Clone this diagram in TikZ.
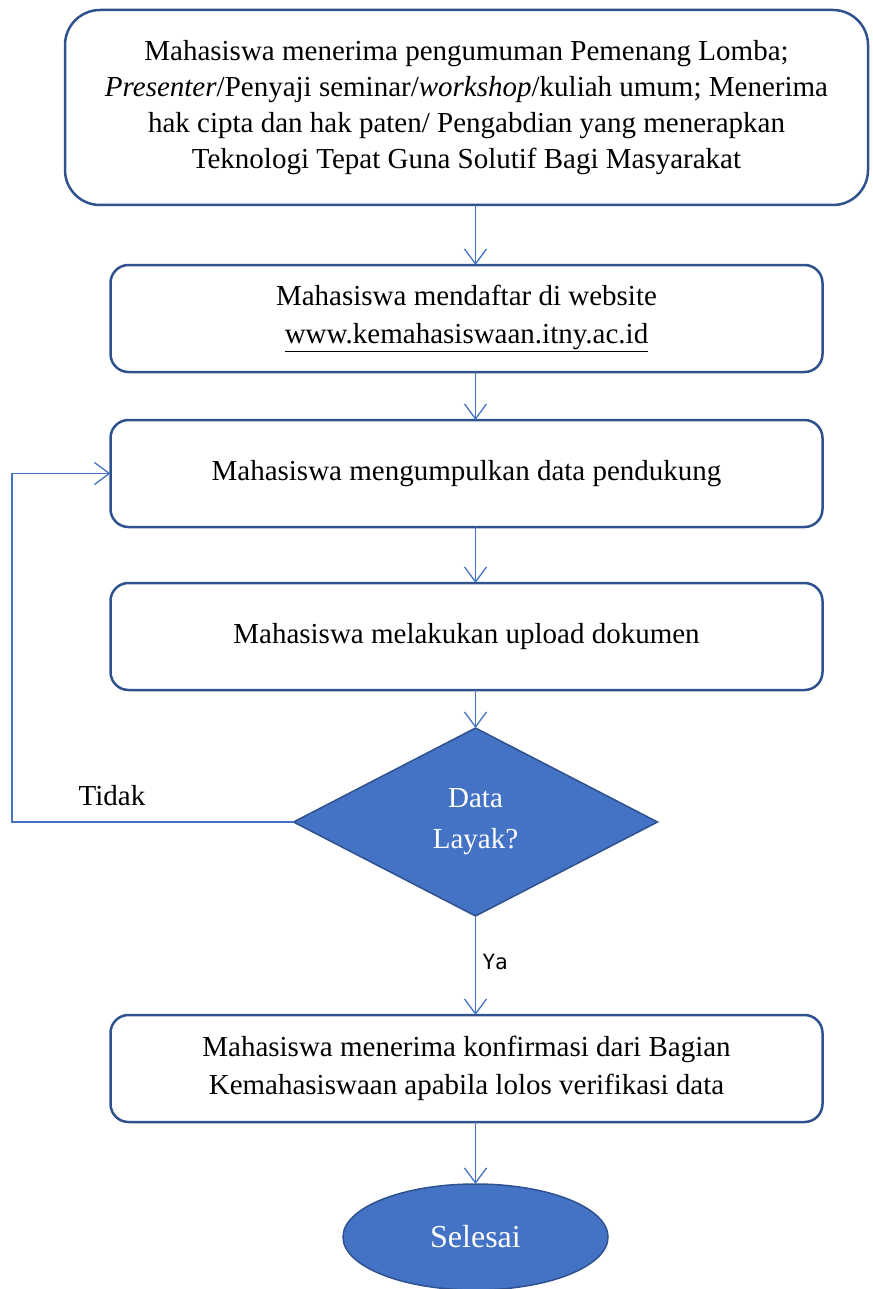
\documentclass[tikz,border=0pt]{standalone}
\usepackage{fontspec}
\setmainfont{Liberation Serif}
\setmonofont{DejaVu Sans Mono}
\usetikzlibrary{positioning, shapes.geometric, arrows.meta}
\definecolor{boxline}{RGB}{47,82,143}
\definecolor{flowblue}{RGB}{68,114,196}

\begin{document}
\begin{tikzpicture}[x=1pt, y=1pt,
  every node/.style={font=\fontsize{29}{38}\selectfont},
  stepbox/.style={draw=boxline, line width=2.5pt, rounded corners=18pt, minimum width=712pt, minimum height=107pt, align=center, inner sep=0pt, outer sep=0pt},
  decision/.style={diamond, draw=boxline, fill=flowblue, line width=1.5pt, text=white, minimum width=364pt, minimum height=188pt, inner sep=0pt, outer sep=0pt, align=center, font=\fontsize{29}{41}\selectfont},
  ending/.style={ellipse, draw=boxline, fill=flowblue, line width=1.5pt, text=white, minimum width=265pt, minimum height=106pt, inner sep=0pt, outer sep=0pt, font=\fontsize{32}{38}\selectfont},
  flow/.style={draw=flowblue, line width=1.3pt, -{Straight Barb[length=15pt, width=22pt]}}]
  \useasboundingbox (0,0) rectangle (872,-1289);

  \node[stepbox, rounded corners=35pt, minimum width=803pt, minimum height=195pt, font=\fontsize{29}{36}\selectfont] (lomba) at (466.5,-107.5)
    {Mahasiswa menerima pengumuman Pemenang Lomba;\\
     \textit{Presenter}/Penyaji seminar/\textit{workshop}/kuliah umum; Menerima\\
     hak cipta dan hak paten/ Pengabdian yang menerapkan\\
     Teknologi Tepat Guna Solutif Bagi Masyarakat};
  \node[stepbox, below=60pt of lomba]   (daftar)  {Mahasiswa mendaftar di website\\ \underline{www.kemahasiswaan.itny.ac.id}};
  \node[stepbox, below=48pt of daftar]  (kumpul)  {Mahasiswa mengumpulkan data pendukung};
  \node[stepbox, below=56pt of kumpul]  (upload)  {Mahasiswa melakukan upload dokumen};
  \node[decision, below=38pt of upload, xshift=9pt] (layak) {Data\\Layak?};
  \node[stepbox, below=99pt of layak, xshift=-9pt] (konfirm) {Mahasiswa menerima konfirmasi dari Bagian\\ Kemahasiswaan apabila lolos verifikasi data};
  \node[ending, below=62pt of konfirm, xshift=9pt] (selesai) {Selesai};
  \coordinate (loop) at (12,0);

  \node[anchor=base] (tidak) at (112,-805) {Tidak};
  \node[anchor=base west, font=\ttfamily\fontsize{21}{24}\selectfont] (ya) at (479,-969) {Ya};

  \draw[flow] (lomba.south -| layak)   -- (daftar.north -| layak);
  \draw[flow] (daftar.south -| layak)  -- (kumpul.north -| layak);
  \draw[flow] (kumpul.south -| layak)  -- (upload.north -| layak);
  \draw[flow] (upload.south -| layak)  -- (layak.north);
  \draw[flow] (layak.south)            -- (konfirm.north -| layak);
  \draw[flow] (konfirm.south -| layak) -- (selesai.north);

  \draw[flow] (layak.west) -- (layak.west -| loop) |- (kumpul.west);
\end{tikzpicture}
\end{document}
